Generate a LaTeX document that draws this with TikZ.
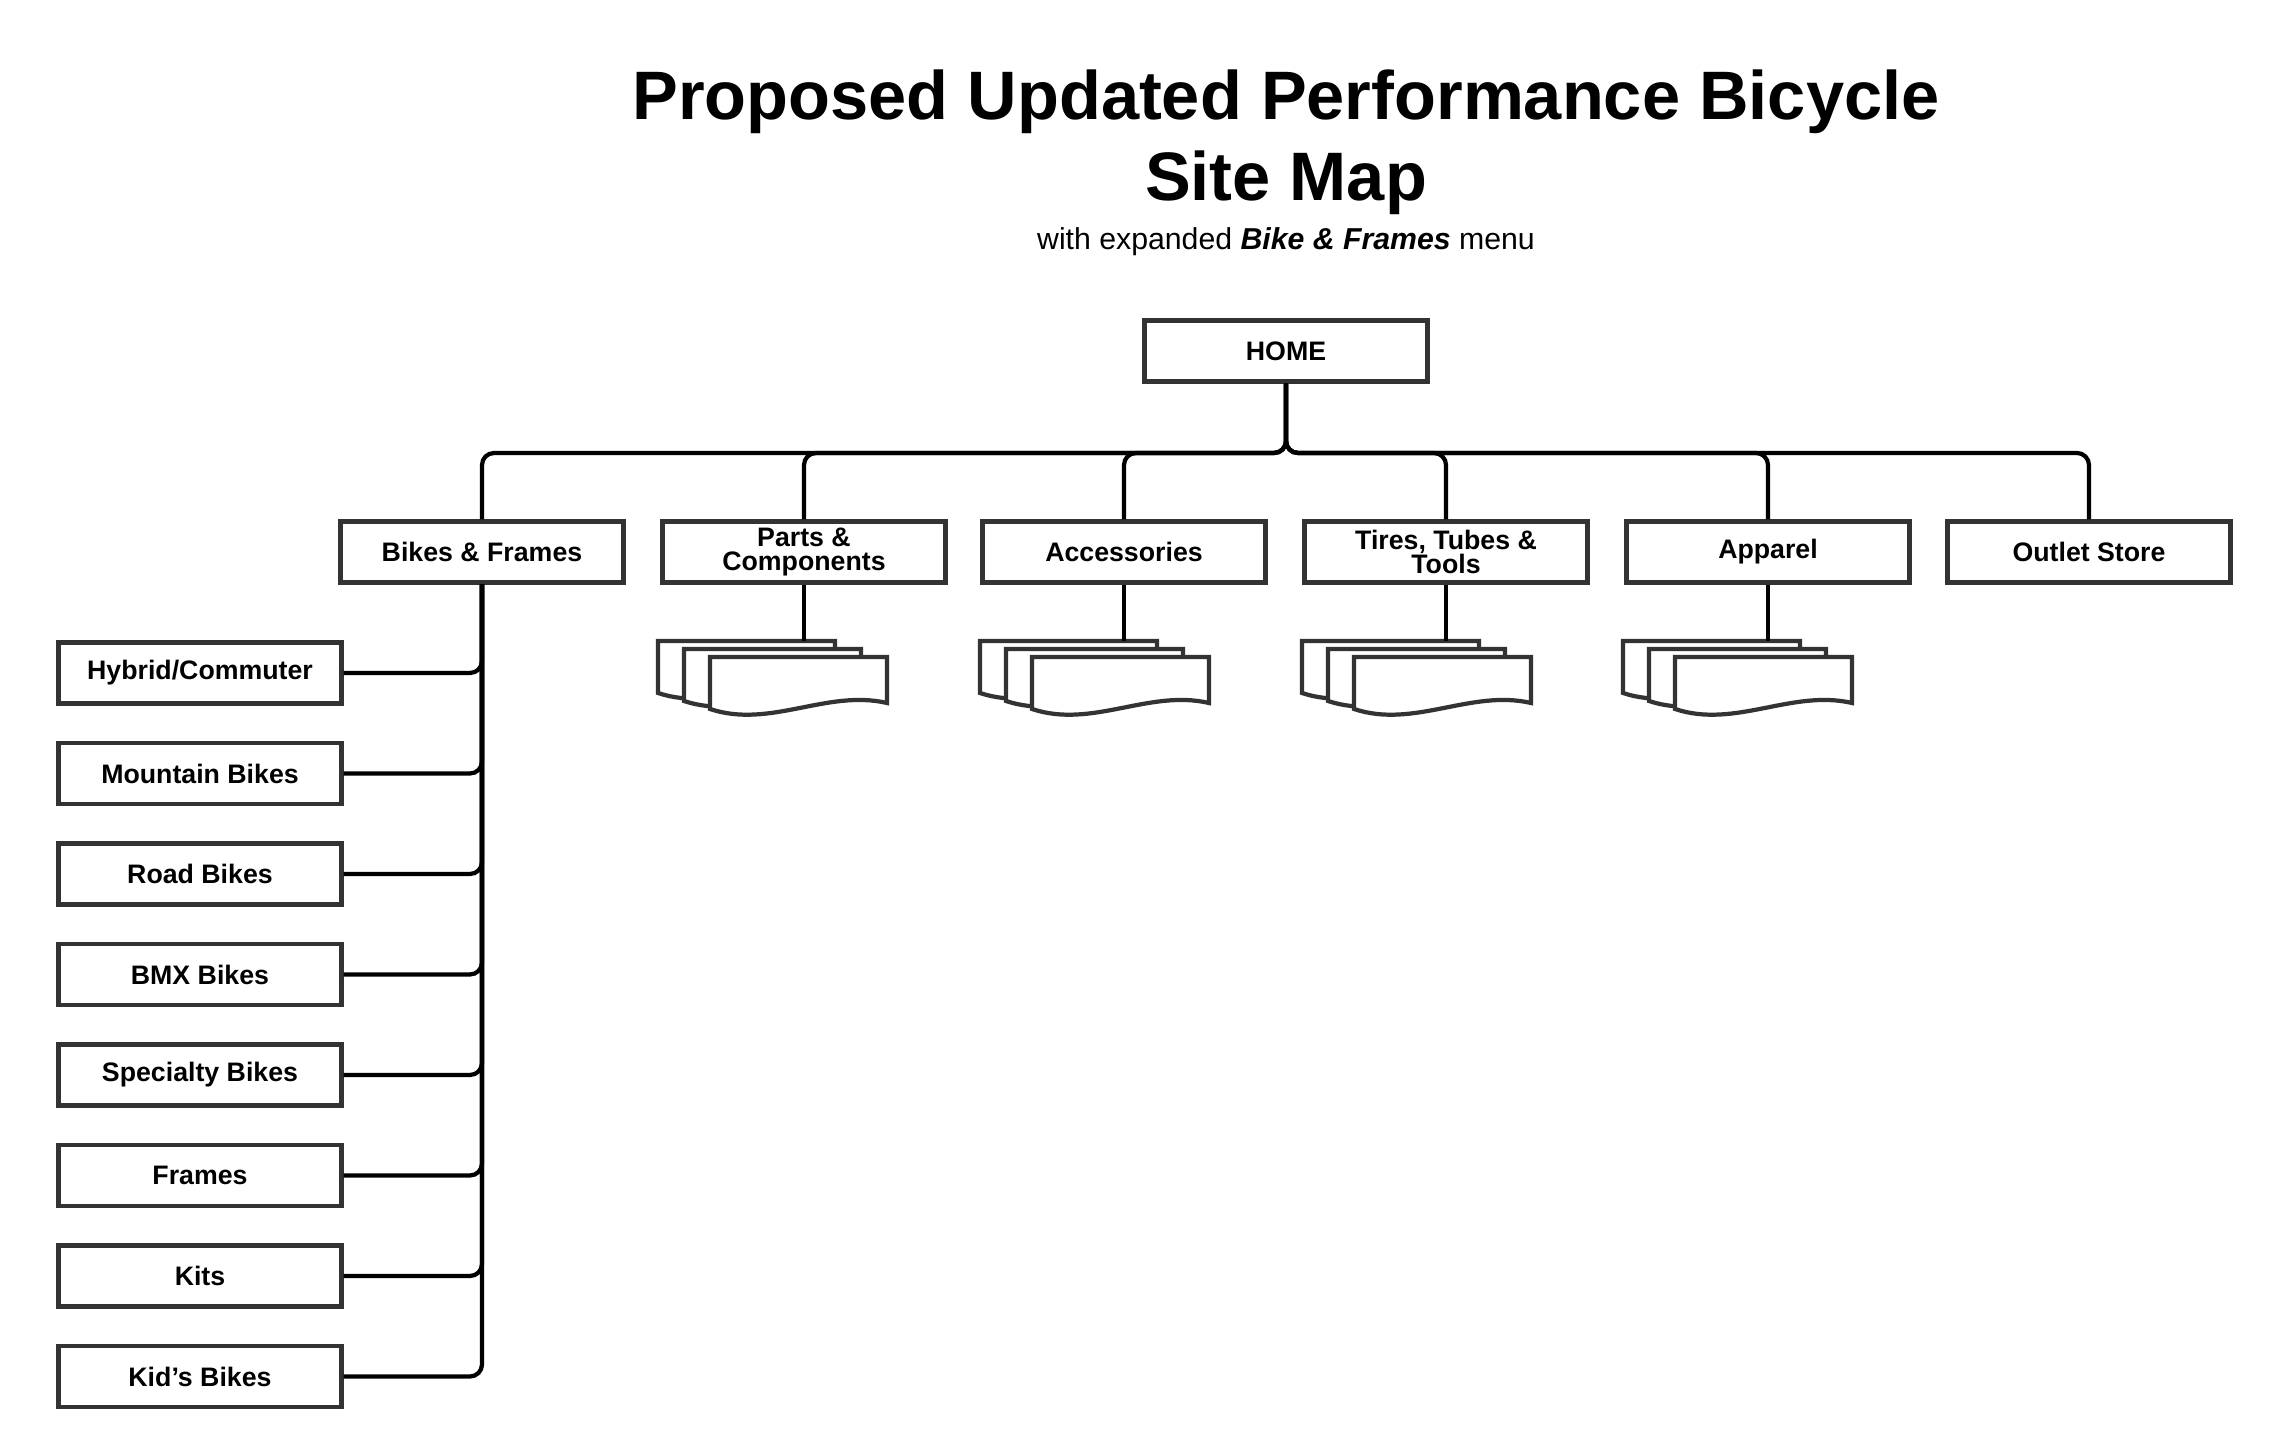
\documentclass[tikz,border=0pt]{standalone}
\usepackage{fontspec}
\setmainfont{Liberation Sans}
\usetikzlibrary{positioning}

\tikzset{
  box/.style={draw=black!80, line width=1.2pt, fill=white, minimum width=2.83cm, minimum height=0.61cm,
    inner sep=0pt, align=center, font=\fontsize{7.6}{7.6}\selectfont\bfseries},
  link/.style={draw=black, line width=1.2pt, rounded corners=0.12cm},
  page/.style={draw=black!80, line width=1.2pt, fill=white}
}

\newcommand{\pagestack}[2]{% left x, top y
  \foreach \k in {0,1,2}{
    \path[page] (#1+26*\k,#2+8*\k) -- ++(0,0) -- (#1+26*\k+229-52+26*\k-26*\k,#2+8*\k) -- (#1+26*\k+229-52,#2+8*\k+46)
      .. controls (#1+26*\k+229-52-60,#2+8*\k+32) and (#1+26*\k+60,#2+8*\k+72) .. (#1+26*\k,#2+8*\k+52) -- cycle;
  }
}

\begin{document}
\begin{tikzpicture}[x=0.01cm, y=-0.01cm]
\useasboundingbox (0,0) rectangle (2272,1440);

% Titel
\node (title) at (1286,102) {\fontsize{19.5}{20}\selectfont\bfseries Proposed Updated Performance Bicycle};
\node (title2) at (1286,183) {\fontsize{19.5}{20}\selectfont\bfseries Site Map};
\node (sub) at (1286,242) {\fontsize{8.6}{9}\selectfont with expanded \textbf{\textit{Bike \& Frames}} menu};

% Ebene 1
\node[box] (home) at (1286,351) {HOME};
\coordinate (bus) at (1286,453);

% Ebene 2
\node[box] (bikes) at (482,552) {Bikes \& Frames};
\node[box] (parts) at (804,552) {Parts \&\\[-1pt]Components};
\node[box] (acc) at (1124,552) {Accessories};
\node[box] (tires) at (1446,552) {Tires, Tubes \&\\[-1pt]Tools};
\node[box] (apparel) at (1768,552) {Apparel};
\node[box] (outlet) at (2089,552) {Outlet Store};

\foreach \n in {bikes,parts,acc,tires,apparel,outlet}
  \draw[link] (home.south) -- (bus) -| (\n.north);

% Unterseiten
\foreach \n/\xl in {parts/658,acc/980,tires/1302,apparel/1623}{
  \pagestack{\xl}{641}
  \coordinate (\n-doc) at (\n.south |- 0,641);
  \draw[link] (\n.south) -- (\n-doc);
}

% Bikes & Frames Menue
\foreach \t [count=\i] in {Hybrid/Commuter,Mountain Bikes,Road Bikes,BMX Bikes,Specialty Bikes,Frames,Kits,Kid's Bikes}{
  \node[box] (sub\i) at (200,{673+100.5*(\i-1)}) {\t};
  \draw[link] (bikes.south) |- (sub\i.east);
}
\end{tikzpicture}
\end{document}
